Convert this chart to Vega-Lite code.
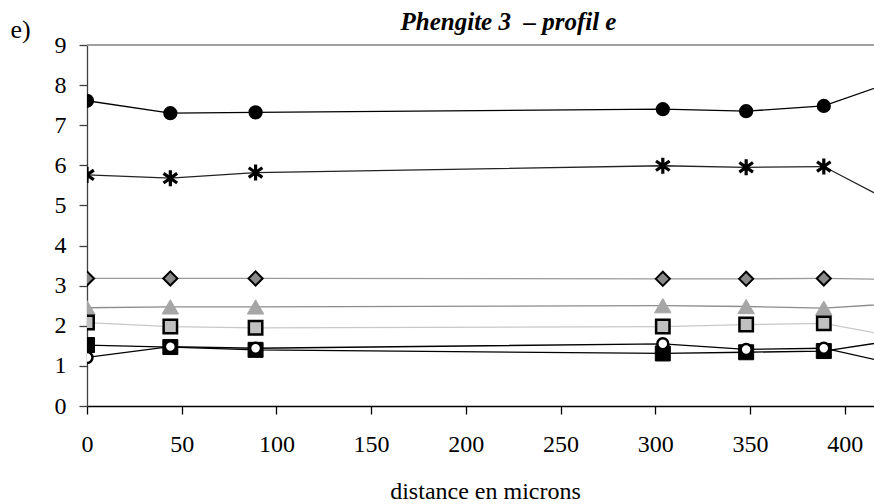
{
  "$schema": "https://vega.github.io/schema/vega-lite/v6.json",
  "width": 787,
  "height": 361,
  "autosize": "none",
  "padding": {"left": 87, "top": 45, "right": 0, "bottom": 98},
  "background": "white",
  "config": {"view": {"stroke": null}},
  "title": {
    "text": "Phengite 3\u00a0 – profil e",
    "font": "Liberation Serif",
    "fontSize": 25,
    "fontStyle": "italic",
    "fontWeight": "bold",
    "color": "black",
    "anchor": "middle",
    "frame": "group",
    "dx": 28,
    "baseline": "alphabetic",
    "offset": -39
  },
  "data": {
    "values": [
      {"s": "s1", "x": 0, "y": 7.61}, {"s": "s1", "x": 44, "y": 7.30}, {"s": "s1", "x": 89, "y": 7.32}, {"s": "s1", "x": 304, "y": 7.40}, {"s": "s1", "x": 348, "y": 7.35}, {"s": "s1", "x": 389, "y": 7.48}, {"s": "s1", "x": 430, "y": 8.16},
      {"s": "s2", "x": 0, "y": 5.76}, {"s": "s2", "x": 44, "y": 5.68}, {"s": "s2", "x": 89, "y": 5.82}, {"s": "s2", "x": 304, "y": 5.99}, {"s": "s2", "x": 348, "y": 5.95}, {"s": "s2", "x": 389, "y": 5.97}, {"s": "s2", "x": 430, "y": 4.96},
      {"s": "s3", "x": 0, "y": 3.18}, {"s": "s3", "x": 44, "y": 3.18}, {"s": "s3", "x": 89, "y": 3.18}, {"s": "s3", "x": 304, "y": 3.17}, {"s": "s3", "x": 348, "y": 3.17}, {"s": "s3", "x": 389, "y": 3.18}, {"s": "s3", "x": 430, "y": 3.15},
      {"s": "s4", "x": 0, "y": 2.45}, {"s": "s4", "x": 44, "y": 2.47}, {"s": "s4", "x": 89, "y": 2.47}, {"s": "s4", "x": 304, "y": 2.50}, {"s": "s4", "x": 348, "y": 2.48}, {"s": "s4", "x": 389, "y": 2.44}, {"s": "s4", "x": 430, "y": 2.56},
      {"s": "s5", "x": 0, "y": 2.08}, {"s": "s5", "x": 44, "y": 1.98}, {"s": "s5", "x": 89, "y": 1.95}, {"s": "s5", "x": 304, "y": 1.98}, {"s": "s5", "x": 348, "y": 2.03}, {"s": "s5", "x": 389, "y": 2.06}, {"s": "s5", "x": 430, "y": 1.70},
      {"s": "s6", "x": 0, "y": 1.52}, {"s": "s6", "x": 44, "y": 1.47}, {"s": "s6", "x": 89, "y": 1.40}, {"s": "s6", "x": 304, "y": 1.31}, {"s": "s6", "x": 348, "y": 1.34}, {"s": "s6", "x": 389, "y": 1.37}, {"s": "s6", "x": 430, "y": 1.66},
      {"s": "s7", "x": 0, "y": 1.21}, {"s": "s7", "x": 44, "y": 1.48}, {"s": "s7", "x": 89, "y": 1.44}, {"s": "s7", "x": 304, "y": 1.55}, {"s": "s7", "x": 348, "y": 1.41}, {"s": "s7", "x": 389, "y": 1.44}, {"s": "s7", "x": 430, "y": 1.01}
    ]
  },
  "layer": [
    {
      "mark": {"type": "rule", "color": "#a0a0a0", "strokeWidth": 1.5},
      "encoding": {"y": {"datum": 9, "type": "quantitative"}}
    },
    {
      "mark": {"type": "line", "clip": true, "strokeWidth": 1.3},
      "encoding": {
        "x": {
          "field": "x", "type": "quantitative",
          "scale": {"domain": [0, 415.5], "nice": false, "zero": false},
          "axis": {
            "values": [0, 50, 100, 150, 200, 250, 300, 350, 400],
            "grid": false,
            "labelFlush": false,
            "domainColor": "black",
            "domainWidth": 1.3,
            "tickColor": "black",
            "tickSize": 8,
            "tickWidth": 1.3,
            "labelFont": "Liberation Serif",
            "labelFontSize": 24,
            "labelColor": "black",
            "labelPadding": 18,
            "title": "distance en microns",
            "titleFont": "Liberation Serif",
            "titleFontSize": 24,
            "titleFontWeight": "normal",
            "titleColor": "black",
            "titleX": 398,
            "titleY": 92,
            "titleAlign": "center",
            "titleBaseline": "alphabetic"
          }
        },
        "y": {
          "field": "y", "type": "quantitative",
          "scale": {"domain": [0, 9], "nice": false},
          "axis": {
            "values": [0, 1, 2, 3, 4, 5, 6, 7, 8, 9],
            "grid": false,
            "labelFlush": false,
            "domainColor": "#404040",
            "domainWidth": 1.3,
            "tickColor": "#404040",
            "tickSize": 8,
            "tickWidth": 1.3,
            "labelFont": "Liberation Serif",
            "labelFontSize": 24,
            "labelColor": "black",
            "labelPadding": 13,
            "title": "e)",
            "titleFont": "Liberation Serif",
            "titleFontSize": 26,
            "titleFontWeight": "normal",
            "titleColor": "black",
            "titleAngle": 0,
            "titleAlign": "left",
            "titleBaseline": "alphabetic",
            "titleX": -77,
            "titleY": -8
          }
        },
        "color": {
          "field": "s", "type": "nominal", "legend": null,
          "scale": {
            "domain": ["s1", "s2", "s3", "s4", "s5", "s6", "s7"],
            "range": ["#000000", "#222222", "#999999", "#8c8c8c", "#c8c8c8", "#000000", "#000000"]
          }
        },
        "detail": {"field": "s"}
      }
    },
    {
      "transform": [{"filter": "datum.s === 's1'"}],
      "mark": {"type": "point", "shape": "circle", "filled": true, "fill": "black", "stroke": "black", "size": 150, "opacity": 1, "clip": true},
      "encoding": {"x": {"field": "x", "type": "quantitative"}, "y": {"field": "y", "type": "quantitative"}}
    },
    {
      "transform": [{"filter": "datum.s === 's2'"}],
      "mark": {"type": "point", "shape": "M0,-1L0,1M-0.85,-0.6L0.85,0.6M-0.85,0.6L0.85,-0.6", "filled": false, "stroke": "black", "strokeWidth": 3.2, "size": 256, "opacity": 1, "clip": true},
      "encoding": {"x": {"field": "x", "type": "quantitative"}, "y": {"field": "y", "type": "quantitative"}}
    },
    {
      "transform": [{"filter": "datum.s === 's3'"}],
      "mark": {"type": "point", "shape": "diamond", "filled": true, "fill": "#8a8a8a", "stroke": "black", "strokeWidth": 2, "size": 200, "opacity": 1, "clip": true},
      "encoding": {"x": {"field": "x", "type": "quantitative"}, "y": {"field": "y", "type": "quantitative"}}
    },
    {
      "transform": [{"filter": "datum.s === 's4'"}],
      "mark": {"type": "point", "shape": "triangle-up", "filled": true, "fill": "#a6a6a6", "stroke": "#a6a6a6", "strokeWidth": 1, "size": 270, "opacity": 1, "clip": true},
      "encoding": {"x": {"field": "x", "type": "quantitative"}, "y": {"field": "y", "type": "quantitative"}}
    },
    {
      "transform": [{"filter": "datum.s === 's5'"}],
      "mark": {"type": "point", "shape": "square", "filled": true, "fill": "#c0c0c0", "stroke": "black", "strokeWidth": 2.5, "size": 180, "opacity": 1, "clip": true},
      "encoding": {"x": {"field": "x", "type": "quantitative"}, "y": {"field": "y", "type": "quantitative"}}
    },
    {
      "transform": [{"filter": "datum.s === 's6'"}],
      "mark": {"type": "point", "shape": "square", "filled": true, "fill": "black", "stroke": "black", "strokeWidth": 1, "size": 225, "opacity": 1, "clip": true},
      "encoding": {"x": {"field": "x", "type": "quantitative"}, "y": {"field": "y", "type": "quantitative"}}
    },
    {
      "transform": [{"filter": "datum.s === 's7'"}],
      "mark": {"type": "point", "shape": "circle", "filled": true, "fill": "white", "stroke": "black", "strokeWidth": 2.5, "size": 120, "opacity": 1, "clip": true},
      "encoding": {"x": {"field": "x", "type": "quantitative"}, "y": {"field": "y", "type": "quantitative"}}
    }
  ]
}
